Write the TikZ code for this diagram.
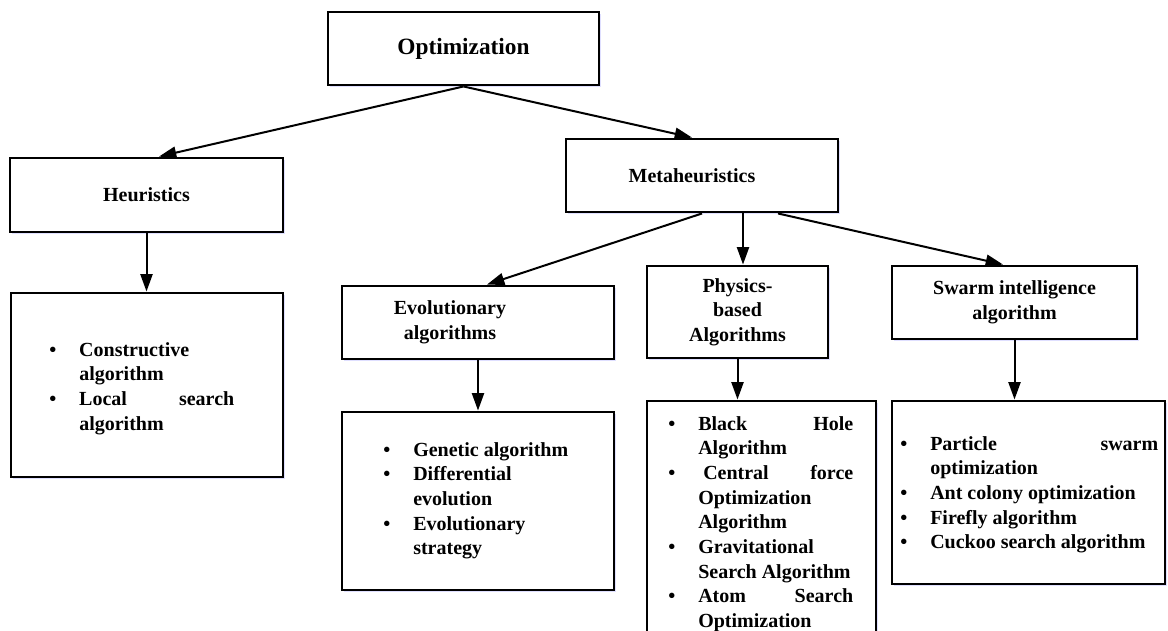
\documentclass[tikz,border=0pt]{standalone}
\usepackage{fontspec}
\setmainfont{Liberation Serif}
\usetikzlibrary{arrows.meta,calc,shadows}

% bullet item and its continuation line
\newcommand\bitem[1]{\makebox[22.5pt][l]{\textbullet}#1}
\newcommand\bcont[1]{\hspace*{22.5pt}#1}

\begin{document}
\begin{tikzpicture}[x=0.75pt,y=-0.75pt,
  box/.style={draw=black, line width=2.2pt, fill=white, inner sep=0pt, align=center,
    font=\bfseries\fontsize{15}{18.5}\selectfont,
    drop shadow={shadow xshift=1.2pt, shadow yshift=-1.2pt, fill=blue!25!white, opacity=0.5}},
  title/.style={inner sep=0pt, align=center, font=\bfseries\fontsize{15}{18.5}\selectfont},
  list/.style={anchor=base west, inner sep=0pt, font=\bfseries\fontsize{15}{18.5}\selectfont},
  link/.style={line width=1.5pt, -{Triangle[length=13pt,width=9pt]}}
]
\useasboundingbox (0,0) rectangle (1168,631);

% top levels
\node[box, minimum width=203.25pt, minimum height=54.75pt,
      font=\bfseries\fontsize{17.5}{21}\selectfont] (opt) at (463.5,48.5) {Optimization};
\node[box, minimum width=204.75pt, minimum height=55.5pt] (heur) at (146.5,195) {Heuristics};
\node[box, minimum width=204pt, minimum height=54.75pt] (meta) at (702,175.5) {};
\node[title] (metatext) at ($(meta.center)+(-10,0)$) {Metaheuristics};

% second level of metaheuristics
\node[box, minimum width=204pt, minimum height=54.75pt] (evol) at (478,322.5) {};
\node[title] (evoltext) at ($(evol.center)+(-28,0)$) {Evolutionary\\algorithms};
\node[box, minimum width=135.75pt, minimum height=69pt] (phys) at (737.5,312) {Physics-\\based\\Algorithms};
\node[box, minimum width=183.75pt, minimum height=54.75pt] (swarm) at (1014.5,302.5) {Swarm intelligence\\algorithm};

% lists of methods
\node[box, minimum width=204pt, minimum height=138pt] (heurb) at (147,385) {};
\node[box, minimum width=204pt, minimum height=133.5pt] (evolb) at (478,501) {};
\node[box, minimum width=171.75pt, minimum height=194.25pt] (physb) at (761.5,530.5) {};
\node[box, minimum width=204.75pt, minimum height=137.25pt] (swarmb) at (1028.5,492.5) {};

\node[list] (heurlist) at (49,356) {\parbox[t]{200pt}{%
  \bitem{Constructive}\\
  \bcont{algorithm}\\
  \bitem{\makebox[116.25pt][s]{Local search}}\\
  \bcont{algorithm}}};
\node[list] (evollist) at (383,456) {\parbox[t]{200pt}{%
  \bitem{Genetic algorithm}\\
  \bitem{Differential}\\
  \bcont{evolution}\\
  \bitem{Evolutionary}\\
  \bcont{strategy}}};
\node[list] (physlist) at (668,430) {\parbox[t]{200pt}{%
  \bitem{\makebox[116.25pt][s]{Black Hole}}\\
  \bcont{Algorithm}\\
  \bitem{\hspace*{3.75pt}\makebox[112.5pt][s]{Central force}}\\
  \bcont{Optimization}\\
  \bcont{Algorithm}\\
  \bitem{Gravitational}\\
  \bcont{Search Algorithm}\\
  \bitem{\makebox[116.25pt][s]{Atom Search}}\\
  \bcont{Optimization}}};
\node[list] (swarmlist) at (900,450) {\parbox[t]{240pt}{%
  \bitem{\makebox[171pt][s]{Particle swarm}}\\
  \bcont{optimization}\\
  \bitem{Ant colony optimization}\\
  \bitem{Firefly algorithm}\\
  \bitem{Cuckoo search algorithm}}};

% connectors
\draw[link] (opt.south) -- ($(heur.north)+(12.5,0)$);
\draw[link] (opt.south) -- ($(meta.north)+(-10,0)$);
\draw[link] (heur.south) -- (heur.south |- heurb.north);
\draw[link] (meta.south) -- ($(evol.north)+(9,0)$);
\draw[link] ($(meta.south)+(41,0)$) -- ($(phys.north)+(5.5,0)$);
\draw[link] ($(meta.south)+(76,0)$) -- ($(swarm.north)+(-11.5,0)$);
\draw[link] (evol.south) -- (evolb.north);
\draw[link] (phys.south) -- (phys.south |- physb.north);
\draw[link] (swarm.south) -- (swarm.south |- swarmb.north);
\end{tikzpicture}
\end{document}
